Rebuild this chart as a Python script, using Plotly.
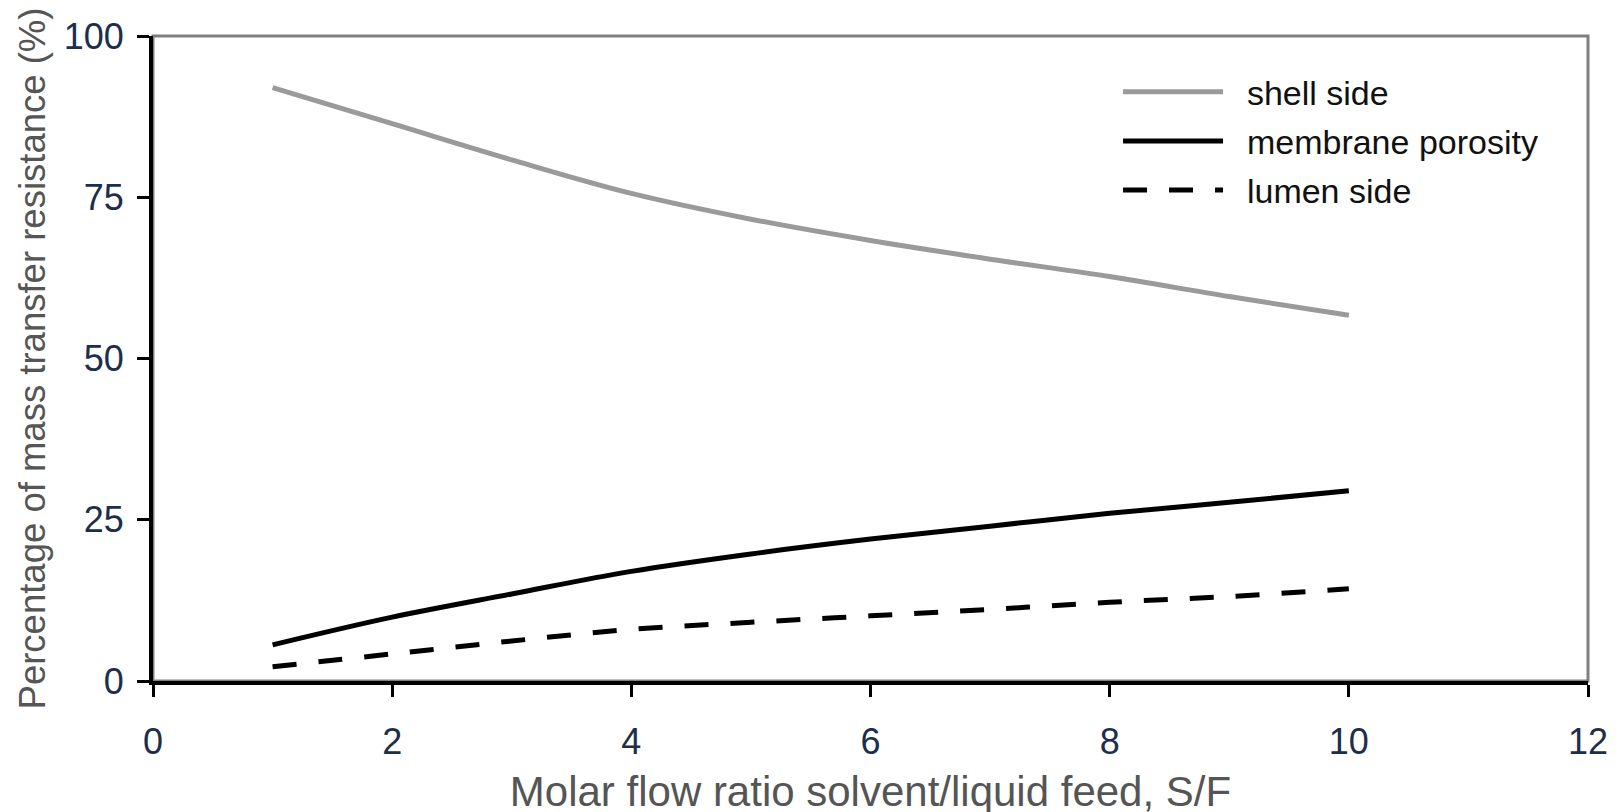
import plotly.graph_objects as go

sf_ratio = [1, 2, 3, 4, 5, 6, 7, 8, 9, 10]
shell_side = [92.0, 86.4, 80.8, 75.6, 71.6, 68.3, 65.4, 62.7, 59.6, 56.7]
membrane_porosity = [5.6, 9.9, 13.5, 17.0, 19.7, 22.0, 24.0, 26.0, 27.7, 29.5]
lumen_side = [2.2, 4.2, 6.2, 8.0, 9.1, 10.1, 11.1, 12.2, 13.1, 14.3]

x_ticks = [0, 2, 4, 6, 8, 10, 12]
y_ticks = [0, 25, 50, 75, 100]

sans = "Liberation Sans, Arial, sans-serif"
pad = "\u00a0\u00a0"

fig = go.Figure()
fig.add_trace(go.Scatter(x=sf_ratio, y=shell_side, mode="lines", name=pad + "shell side",
                         legendgroup="a",
                         line=dict(color="#9a9a9a", width=5, shape="spline")))
fig.add_trace(go.Scatter(x=sf_ratio, y=membrane_porosity, mode="lines", name=pad + "membrane porosity",
                         legendgroup="b",
                         line=dict(color="#000000", width=5, shape="spline")))
fig.add_trace(go.Scatter(x=sf_ratio, y=lumen_side, mode="lines", name=pad + "lumen side",
                         legendgroup="c",
                         line=dict(color="#000000", width=5, dash="24px,22px", shape="spline")))

# gray frame (top/right)
fig.add_shape(type="rect", xref="paper", yref="paper", x0=0, y0=0, x1=1, y1=1,
              line=dict(color="#808080", width=3), layer="below")

fig.update_layout(
    width=1620, height=812,
    margin=dict(l=145, r=40, t=28, b=139),
    paper_bgcolor="white", plot_bgcolor="white",
    showlegend=True,
    legend=dict(x=0.6725, y=0.958, xanchor="left", yanchor="top",
                font=dict(family=sans, size=34, color="#111"),
                itemwidth=100, tracegroupgap=2, bgcolor="rgba(0,0,0,0)"),
    xaxis=dict(range=[0, 12], tickvals=x_ticks, ticks="outside", ticklen=12, tickwidth=3,
               tickcolor="black", showline=True, linecolor="black", linewidth=4,
               showgrid=False, zeroline=False, automargin=False,
               tickfont=dict(family=sans, size=36, color="#1c2e4a"),
               ticklabelstandoff=14,
               title=dict(text="Molar flow ratio solvent/liquid feed, S/F",
                          font=dict(family=sans, size=42, color="#555"), standoff=16)),
    yaxis=dict(range=[0, 100], tickvals=y_ticks, ticks="outside", ticklen=12, tickwidth=3,
               tickcolor="black", showline=True, linecolor="black", linewidth=4,
               showgrid=False, zeroline=False, automargin=False,
               tickfont=dict(family=sans, size=36, color="#1c2e4a"),
               ticklabelstandoff=6,
               title=dict(text="Percentage of mass transfer resistance (%)",
                          font=dict(family=sans, size=36.5, color="#555"), standoff=8)),
)

fig.write_html("out.html")
